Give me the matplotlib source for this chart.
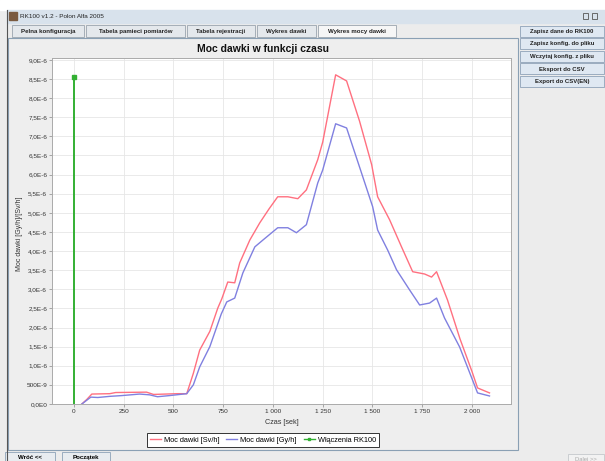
import matplotlib
matplotlib.use("Agg")
import matplotlib.pyplot as plt
from matplotlib.patches import Rectangle
from matplotlib.lines import Line2D

plt.rcParams['font.family'] = ['Liberation Sans', 'DejaVu Sans']

# Data (time in seconds, dose rate in units of 1e-6)
t_sv = [40, 65, 90, 180, 210, 365, 400, 460, 520, 567, 600, 632, 683, 723, 743,
        773, 808, 833, 884, 934, 980, 1024, 1075, 1125, 1168, 1225, 1250, 1315,
        1370, 1435, 1496, 1526, 1586, 1646, 1702, 1762, 1797, 1822, 1877, 1940,
        2000, 2028, 2088]
sv_vals = [0.0, 0.12, 0.26, 0.27, 0.30, 0.31, 0.25, 0.26, 0.27, 0.27, 0.8, 1.41,
           1.9, 2.51, 2.75, 3.19, 3.17, 3.69, 4.29, 4.74, 5.1, 5.42, 5.42, 5.37,
           5.6, 6.39, 6.85, 8.61, 8.45, 7.4, 6.26, 5.42, 4.82, 4.11, 3.46, 3.40,
           3.32, 3.46, 2.72, 1.7, 0.85, 0.42, 0.29]

t_gy = [40, 65, 85, 120, 180, 240, 330, 380, 420, 480, 567, 600, 632, 683, 740,
        768, 808, 849, 909, 950, 1024, 1075, 1118, 1168, 1225, 1250, 1315, 1370,
        1435, 1501, 1526, 1576, 1621, 1687, 1737, 1787, 1822, 1862, 1938, 2028,
        2088]
gy_vals = [0.0, 0.1, 0.18, 0.17, 0.2, 0.22, 0.26, 0.24, 0.19, 0.22, 0.27, 0.5,
           0.97, 1.5, 2.35, 2.67, 2.77, 3.43, 4.11, 4.29, 4.61, 4.61, 4.48, 4.69,
           5.78, 6.12, 7.33, 7.22, 6.2, 5.16, 4.55, 4.03, 3.51, 2.98, 2.59, 2.64,
           2.77, 2.25, 1.49, 0.29, 0.21]

t_on = [0, 0]
on_vals = [0.0, 8.56]

x_ticks = [0, 250, 500, 750, 1000, 1250, 1500, 1750, 2000]
x_tick_labels = ["0", "250", "500", "750", "1 000", "1 250", "1 500", "1 750", "2 000"]
y_ticks = [0, 0.5, 1.0, 1.5, 2.0, 2.5, 3.0, 3.5, 4.0, 4.5, 5.0, 5.5, 6.0, 6.5,
           7.0, 7.5, 8.0, 8.5, 9.0]
y_tick_labels = ["0,0E0", "500E-9", "1,0E-6", "1,5E-6", "2,0E-6", "2,5E-6",
                 "3,0E-6", "3,5E-6", "4,0E-6", "4,5E-6", "5,0E-6", "5,5E-6",
                 "6,0E-6", "6,5E-6", "7,0E-6", "7,5E-6", "8,0E-6", "8,5E-6", "9,0E-6"]

tabs = ["Pelna konfiguracja", "Tabela pamieci pomiarów", "Tabela rejestracji",
        "Wykres dawki", "Wykres mocy dawki"]
tab_edges = [12, 86, 187, 257, 318, 398]
buttons = ["Zapisz dane do RK100", "Zapisz konfig. do pliku", "Wczytaj konfig. z pliku",
           "Eksport do CSV", "Export do CSV(EN)"]

W, H = 605, 461
fig = plt.figure(figsize=(W / 100, H / 100), dpi=100)

# GUI frame drawn in pixel coordinates
bg = fig.add_axes([0, 0, 1, 1])
bg.set_xlim(0, W)
bg.set_ylim(H, 0)
bg.axis("off")
bg.add_patch(Rectangle((0, 0), W, H, color="#ececec"))
bg.add_patch(Rectangle((0, 0), W, 10, color="white"))
bg.add_patch(Rectangle((7, 10), W - 7, 13, color="#d8e2ec"))
bg.add_patch(Rectangle((9, 12), 8, 8, color="#7a5a40"))
bg.text(20, 16.5, "RK100 v1.2 - Polon Alfa 2005", fontsize=4.6, va="center",
        color="#222222")
for x0 in [583, 592]:
    bg.add_patch(Rectangle((x0, 13), 5, 6, fill=False, ec="#555555", lw=0.6))
bg.plot([7, 7], [10, H], color="#555555", lw=0.8)

# tabs
for k, name in enumerate(tabs):
    x0, x1 = tab_edges[k], tab_edges[k + 1]
    sel = k == len(tabs) - 1
    bg.add_patch(Rectangle((x0, 25), x1 - x0 - 2, 12,
                           fc="#f6f6f6" if sel else "#e4e8ec", ec="#9aa4ae", lw=0.6))
    bg.text((x0 + x1 - 2) / 2, 31, name, fontsize=4.4, ha="center", va="center",
            fontweight="bold", color="#222222")

# right buttons
for k, name in enumerate(buttons):
    y0 = 26 + k * 12.5
    bg.add_patch(Rectangle((520, y0), 84, 11, fc="#dfe8f2", ec="#8ea2b8", lw=0.6))
    bg.text(562, y0 + 5.5, name, fontsize=4.3, ha="center", va="center",
            fontweight="bold", color="#222222")

# chart panel
bg.add_patch(Rectangle((8, 38), 510, 412, fc="#eeeeee", ec="#8aa0b4", lw=0.8))

# bottom buttons
bg.add_patch(Rectangle((5, 452), 50, 12, fc="#e8ecf0", ec="#8ea2b8", lw=0.6))
bg.text(30, 457.5, "Wróć <<", fontsize=4.4, ha="center", va="center", fontweight="bold")
bg.add_patch(Rectangle((62, 452), 48, 12, fc="#e8ecf0", ec="#8ea2b8", lw=0.6))
bg.text(86, 457.5, "Początek", fontsize=4.4, ha="center", va="center", fontweight="bold")
bg.add_patch(Rectangle((568, 454), 36, 10, fc="#f2f2f2", ec="#c4c8cc", lw=0.6))
bg.text(586, 459, "Dalej >>", fontsize=4.2, ha="center", va="center", color="#aaaaaa")

# chart
ax = fig.add_axes([52 / W, 1 - 404 / H, (511 - 52) / W, (404 - 58) / H])
ax.set_facecolor("white")
ax.plot(t_sv, sv_vals, color="#ff7080", lw=1.0, label="Moc dawki [Sv/h]")
ax.plot(t_gy, gy_vals, color="#8080e0", lw=1.0, label="Moc dawki [Gy/h]")
ax.plot(t_on, on_vals, color="#33b033", lw=1.4)
ax.plot(t_on[-1:], on_vals[-1:], "s", color="#33b033", ms=2.2)
ax.set_xlim(-110, 2196)
ax.set_ylim(0, 9.05)
ax.set_xticks(x_ticks, x_tick_labels)
ax.set_yticks(y_ticks, y_tick_labels)
ax.grid(True, color="#e6e6e6", lw=0.6)
ax.set_axisbelow(True)
ax.tick_params(labelsize=4.6, length=2, width=0.5, color="#888888",
               labelcolor="#333333", pad=1.5)
for s in ax.spines.values():
    s.set_color("#aaaaaa")
    s.set_linewidth(0.7)
ax.set_xlabel("Czas [sek]", fontsize=5.2, color="#333333", labelpad=4)
fig.text(20 / W, 1 - 234 / H, "Moc dawki [Gy/h]/[Sv/h]", rotation=90, fontsize=5,
         ha="center", va="center", color="#333333")
fig.text(263 / W, 1 - 49 / H, "Moc dawki w funkcji czasu", fontsize=7.5,
         fontweight="bold", ha="center", va="center", color="#111111")

handles = [Line2D([], [], color="#ff7080", lw=1.0),
           Line2D([], [], color="#8080e0", lw=1.0),
           Line2D([], [], color="#33b033", lw=1.0, marker="s", ms=2)]
leg = fig.legend(handles, ["Moc dawki [Sv/h]", "Moc dawki [Gy/h]", "Włączenia RK100"],
                 loc="center", bbox_to_anchor=(263 / W, 1 - 440 / H), ncol=3,
                 fontsize=5.3, fancybox=False, edgecolor="#333333", framealpha=1,
                 handlelength=1.5, handletextpad=0.4, columnspacing=0.9,
                 borderpad=0.45)
leg.get_frame().set_linewidth(0.7)

fig.savefig("out.png", dpi=100)
